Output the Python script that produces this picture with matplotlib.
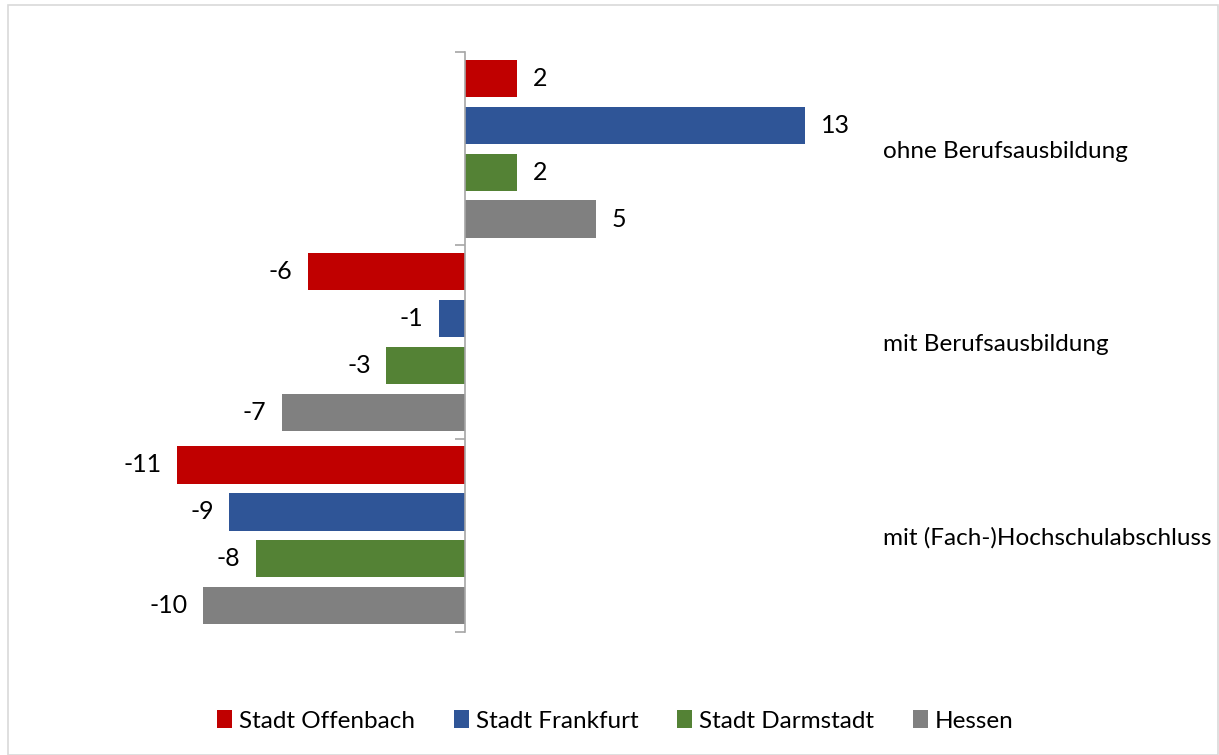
import matplotlib.pyplot as plt
from matplotlib.patches import Rectangle, Patch

plt.rcParams['font.family'] = ['Lato', 'DejaVu Sans']

categories = ["ohne Berufsausbildung", "mit Berufsausbildung", "mit (Fach-)Hochschulabschluss"]
series = ["Stadt Offenbach", "Stadt Frankfurt", "Stadt Darmstadt", "Hessen"]
values = {
    "Stadt Offenbach": [2, -6, -11],
    "Stadt Frankfurt": [13, -1, -9],
    "Stadt Darmstadt": [2, -3, -8],
    "Hessen": [5, -7, -10],
}
colors = ["#C00000", "#2F5597", "#548235", "#808080"]

fig = plt.figure(figsize=(12.19, 7.55), dpi=100)
ax = fig.add_axes([151 / 1219, 1 - 632 / 755, (831 - 151) / 1219, (632 - 52) / 755])

pitch = 0.243
height = 0.193
for j, (name, col) in enumerate(zip(series, colors)):
    for i, v in enumerate(values[name]):
        y = i + (j - 1.5) * pitch
        ax.barh(y, v, height=height, color=col)
        off = 0.6 if v >= 0 else -0.6
        ax.text(v + off, y, str(v), ha='left' if v >= 0 else 'right',
                va='center', fontsize=18, color='black')

for i, cat in enumerate(categories):
    ax.text(16.0, i + 0.015, cat, ha='left', va='center', fontsize=17.5, clip_on=False)

ax.set_xlim(-12, 14)
ax.set_ylim(2.5, -0.5)
for s in ['top', 'right', 'bottom']:
    ax.spines[s].set_visible(False)
ax.spines['left'].set_position(('data', 0))
ax.spines['left'].set_color('#A6A6A6')
ax.spines['left'].set_linewidth(1.2)
ax.set_xticks([])
ax.set_yticks([-0.5, 0.5, 1.5, 2.5])
ax.set_yticklabels([])
ax.tick_params(axis='y', direction='out', length=7, width=1.2, color='#A6A6A6')

handles = [Patch(facecolor=c, label=n) for n, c in zip(series, colors)]
fig.legend(handles=handles, loc='center', bbox_to_anchor=(0.505, 1 - 721 / 755),
           ncol=4, frameon=False, fontsize=17.5, handlelength=0.6, handleheight=0.7,
           handletextpad=0.3, columnspacing=1.6)

fig.patches.append(Rectangle((8 / 1219, 0), 1 - 9 / 1219, 1 - 5 / 755,
                             transform=fig.transFigure, fill=False,
                             edgecolor='#D9D9D9', linewidth=1.2))

fig.savefig('out.png', dpi=100)
